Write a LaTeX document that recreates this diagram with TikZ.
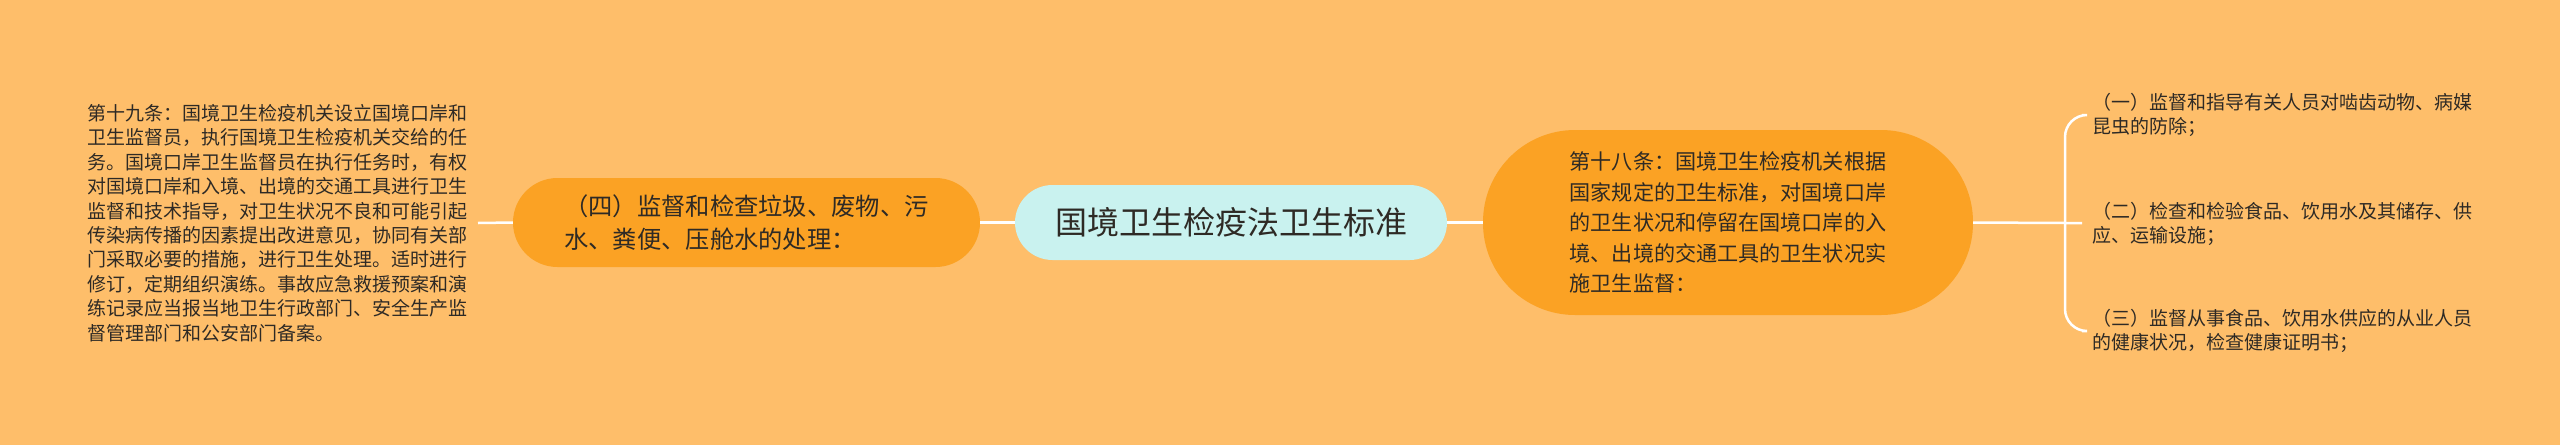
\documentclass[tikz,border=0pt]{standalone}
\usepackage{fontspec}
\setmainfont{Noto Sans CJK SC}
\definecolor{bgc}{HTML}{FEBE6A}
\definecolor{nodeor}{HTML}{FBA224}
\definecolor{centc}{HTML}{C9F2EF}
\definecolor{txt}{HTML}{2E2A25}
\begin{document}
\begin{tikzpicture}[x=1pt,y=-1pt,
  link/.style={draw=white,line width=2.5pt},
  pill/.style={fill=nodeor,inner sep=0pt,align=left,text=txt},
  plain/.style={inner xsep=10pt,inner ysep=2pt,align=left,text=txt}]
\fill[bgc] (0,0) rectangle (2560,445);
\useasboundingbox (0,0) rectangle (2560,445);

\node[fill=centc,inner sep=0pt,minimum width=432pt,minimum height=75pt,rounded corners=37.5pt,text=txt,font=\fontsize{32}{38}\selectfont] (C) at (1231,222.5) {国境卫生检疫法卫生标准};

\node[pill,minimum width=467pt,minimum height=89pt,rounded corners=44.5pt,font=\fontsize{24.3}{33}\selectfont] (L) at (746.5,222.5) {（四）监督和检查垃圾、废物、污\\水、粪便、压舱水的处理：};

\node[pill,minimum width=490pt,minimum height=185pt,rounded corners=92pt,font=\fontsize{21.1}{30.5}\selectfont] (R) at (1728,222.5) {第十八条：国境卫生检疫机关根据\\国家规定的卫生标准，对国境口岸\\的卫生状况和停留在国境口岸的入\\境、出境的交通工具的卫生状况实\\施卫生监督：};

\node[plain,anchor=east,font=\fontsize{19}{24.4}\selectfont] (LL) at (478,223) {第十九条：国境卫生检疫机关设立国境口岸和\\卫生监督员，执行国境卫生检疫机关交给的任\\务。国境口岸卫生监督员在执行任务时，有权\\对国境口岸和入境、出境的交通工具进行卫生\\监督和技术指导，对卫生状况不良和可能引起\\传染病传播的因素提出改进意见，协同有关部\\门采取必要的措施，进行卫生处理。适时进行\\修订，定期组织演练。事故应急救援预案和演\\练记录应当报当地卫生行政部门、安全生产监\\督管理部门和公安部门备案。};

\node[plain,anchor=west,font=\fontsize{19}{24.5}\selectfont] (I1) at (2082,115) {（一）监督和指导有关人员对啮齿动物、病媒\\昆虫的防除；};
\node[plain,anchor=west,font=\fontsize{19}{24.5}\selectfont] (I2) at (2082,224) {（二）检查和检验食品、饮用水及其储存、供\\应、运输设施；};
\node[plain,anchor=west,font=\fontsize{19}{24.5}\selectfont] (I3) at (2082,331) {（三）监督从事食品、饮用水供应的从业人员\\的健康状况，检查健康证明书；};

\coordinate (br) at (2065,223);

\draw[link] (C.west) -- (L.east);
\draw[link] (C.east) -- (R.west);
\draw[link] (L.west) -- (LL.east);
\draw[link] (R.east) -- (br) -- (br -| I2.west);
\draw[link,rounded corners=22pt] (I1.west) -| (br) |- (I3.west);
\end{tikzpicture}
\end{document}
